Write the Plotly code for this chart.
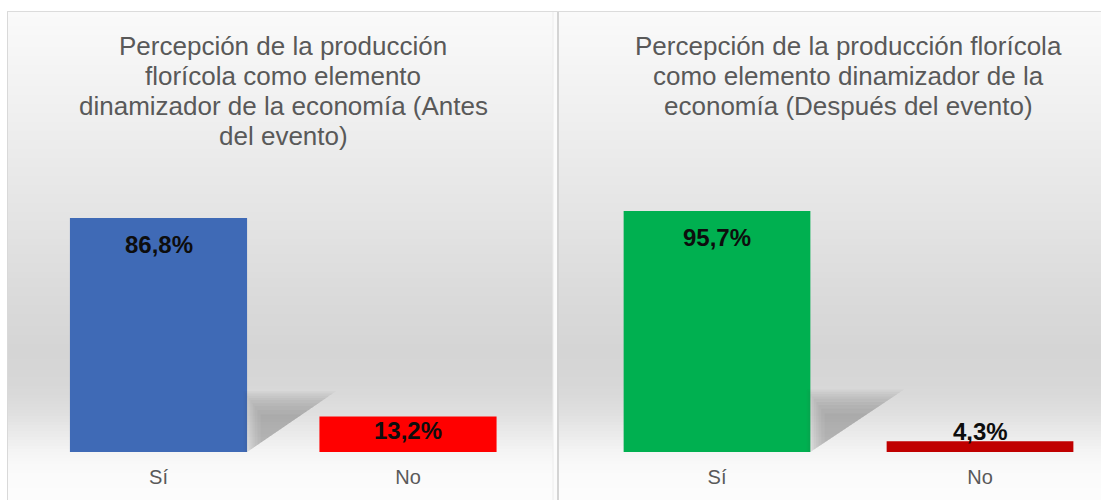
import plotly.graph_objects as go

# data
categorias = ["Sí", "No"]
antes = [86.8, 13.2]
despues = [95.7, 4.3]
titulo_antes = ["Percepción de la producción", "florícola como elemento",
                "dinamizador de la economía (Antes", "del evento)"]
titulo_despues = ["Percepción de la producción florícola",
                  "como elemento dinamizador de la",
                  "economía (Después del evento)"]

W, H = 1101, 500
FONT = "Liberation Sans, Arial, sans-serif"
GRIS = "#595959"


def px(y):
    # pixel row -> paper y
    return (H - y) / H


def fmt(v):
    return f"{v:.1f}".replace(".", ",") + "%"


fig = go.Figure()

# panel background: vertical grey gradient built from thin strips
stops = [(11, 250), (100, 241), (200, 230), (300, 218), (350, 213), (385, 215),
         (410, 222), (435, 235), (455, 246), (475, 251), (500, 252)]


def gris(y):
    for (y0, g0), (y1, g1) in zip(stops, stops[1:]):
        if y0 <= y <= y1:
            return round(g0 + (g1 - g0) * (y - y0) / (y1 - y0))
    return 252


shapes = []
step = 3
for y in range(11, H, step):
    g = gris(y + step / 2)
    shapes.append(dict(type="rect", xref="paper", yref="paper", layer="below",
                       x0=7 / W, x1=1, y0=px(y + step), y1=px(y),
                       fillcolor=f"rgb({g},{g},{g})", line_width=0))
# gap between panels and borders
shapes.append(dict(type="rect", xref="paper", yref="paper", layer="below",
                   x0=553 / W, x1=557 / W, y0=0, y1=px(11),
                   fillcolor="#fbfbfb", line_width=0))
for x, w, c in [(7.5, 1, "#d9d9d9"), (553, 1, "#ececec"), (558, 2, "#d4d4d4")]:
    shapes.append(dict(type="line", xref="paper", yref="paper", layer="below",
                       x0=x / W, x1=x / W, y0=0, y1=px(11),
                       line=dict(color=c, width=w)))
shapes.append(dict(type="line", xref="paper", yref="paper", layer="below",
                   x0=7 / W, x1=1, y0=px(11.5), y1=px(11.5),
                   line=dict(color="#dcdcdc", width=1)))

bar_w = 0.71
panels = [
    dict(vals=antes, colors=["#3F6AB6", "#FF0000"], xa="x", ya="y",
         offs=[-27, -14]),
    dict(vals=despues, colors=["#00B050", "#C00000"], xa="x2", ya="y2",
         offs=[-26, 10]),
]

annotations = []
for p in panels:
    xs = list(range(len(categorias)))
    # soft perspective shadow behind the tall bar
    v = p["vals"][0]
    xr = xs[0] + bar_w / 2
    hgt = 0.24 * v
    tri_x = [xr, xr, xr + 0.33, xr]
    tri_y = [0, hgt, hgt, 0]
    cx, cy = xr + 0.11, hgt / 3
    for s in [1.12, 1.06, 1.0, 0.94, 0.88, 0.8, 0.72, 0.62, 0.5]:
        fig.add_trace(go.Scatter(
            x=[cx + (t - cx) * s for t in tri_x], y=[cy + (t - cy) * s for t in tri_y],
            fill="toself", fillcolor="rgba(60,60,60,0.045)", mode="lines",
            line=dict(width=0), hoverinfo="skip", showlegend=False,
            xaxis=p["xa"], yaxis=p["ya"]))
    fig.add_trace(go.Bar(
        x=xs, y=p["vals"], width=bar_w, marker=dict(color=p["colors"], line_width=0),
        showlegend=False, xaxis=p["xa"], yaxis=p["ya"], hoverinfo="skip"))
    for x, val, off in zip(xs, p["vals"], p["offs"]):
        annotations.append(dict(
            x=x, y=val, xref=p["xa"], yref=p["ya"], text=fmt(val),
            showarrow=False, xanchor="center", yanchor="middle", yshift=off,
            font=dict(family=FONT, size=24, color="#0d0d0d", weight="bold")))

for i, line in enumerate(titulo_antes):
    annotations.append(dict(x=283 / W, y=px(46 + 30 * i), xref="paper", yref="paper",
                            text=line, showarrow=False, xanchor="center", yanchor="middle",
                            font=dict(family=FONT, size=26, color=GRIS)))
for i, line in enumerate(titulo_despues):
    annotations.append(dict(x=848 / W, y=px(46 + 30 * i), xref="paper", yref="paper",
                            text=line, showarrow=False, xanchor="center", yanchor="middle",
                            font=dict(family=FONT, size=26, color=GRIS)))

xcommon = dict(tickvals=[0, 1], ticktext=categorias, showgrid=False, zeroline=False,
               showline=False, ticks="outside", ticklen=7, tickcolor="rgba(0,0,0,0)",
               tickfont=dict(family=FONT, size=20, color=GRIS), fixedrange=True)
ycommon = dict(range=[0, 100], visible=False, showgrid=False, zeroline=False,
               fixedrange=True)

fig.update_layout(
    width=W, height=H,
    margin=dict(l=0, r=0, t=0, b=0),
    paper_bgcolor="white", plot_bgcolor="rgba(0,0,0,0)",
    xaxis=dict(domain=[33.75 / W, 532.75 / W], range=[-0.5, 1.5], anchor="y", **xcommon),
    yaxis=dict(domain=[px(452), px(452 - 269.6)], anchor="x", **ycommon),
    xaxis2=dict(domain=[585.5 / W, 1], range=[-0.5, 1.46], anchor="y2", **xcommon),
    yaxis2=dict(domain=[px(452), px(452 - 251.8)], anchor="x2", **ycommon),
    shapes=shapes,
    annotations=annotations,
    showlegend=False,
)

fig.write_html("out.html", config={"displayModeBar": False},
               post_script="document.body.style.margin='0';document.body.style.overflow='hidden';")
